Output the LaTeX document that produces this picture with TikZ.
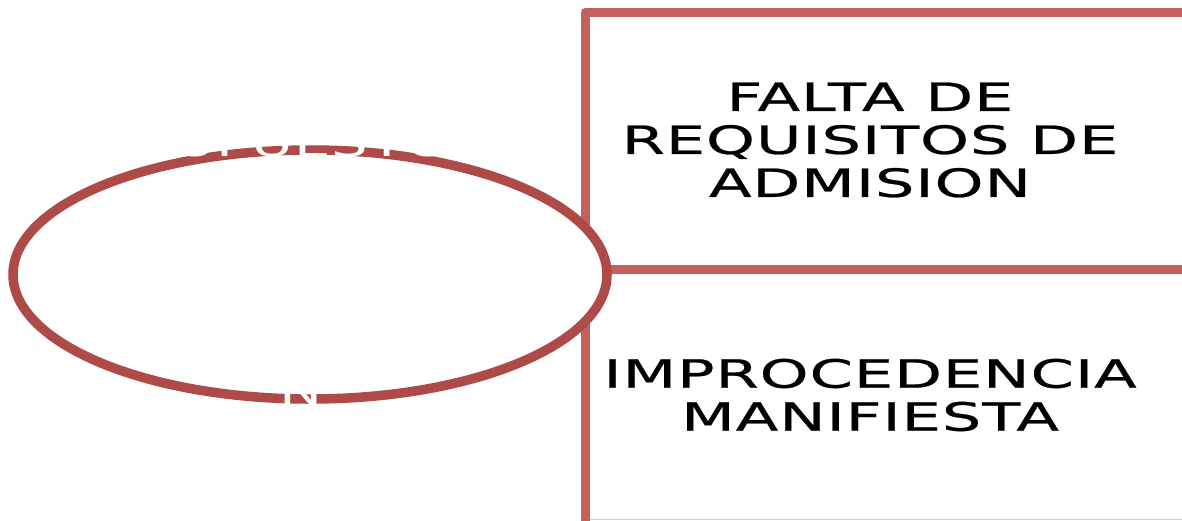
\documentclass[tikz,border=0pt]{standalone}
\usepackage{fontspec}
\newfontfamily\boxfont[FakeStretch=1.6,LetterSpace=2,FakeBold=0.6]{DejaVu Sans}
\newfontfamily\ovalfont[FakeStretch=1.6,LetterSpace=2]{DejaVu Sans}
\usetikzlibrary{shapes.geometric}
\definecolor{edgered}{RGB}{196,96,93}
\definecolor{ovalred}{RGB}{174,74,71}
\definecolor{faint}{RGB}{228,200,200}
\begin{document}
\begin{tikzpicture}[x=1pt,y=-1pt,
  edge/.style={draw=edgered,line width=9pt},
  cell/.style={font=\boxfont\fontsize{39}{43}\selectfont,align=center,text=black,inner sep=0pt},
  oval/.style={ellipse,draw=ovalred,line width=9.5pt,fill=white,minimum width=594pt,minimum height=249pt,inner sep=0pt},
  hidden/.style={font=\ovalfont\fontsize{36}{31}\selectfont,text=white,anchor=base,inner sep=0pt}]
\useasboundingbox (0,0) rectangle (1182,520);
\fill[white] (0,0) rectangle (1182,520);
\coordinate (tl) at (585,12);
\coordinate (tr) at (1190,12);
\coordinate (bl) at (585,530);
\coordinate (ml) at (585,269);
\coordinate (mr) at (1190,269);
\coordinate (fl) at (589,519.5);
\coordinate (fr) at (1190,519.5);
\draw[faint,line width=1pt] (fl) -- (fr);
\draw[edge,line join=round] (tr) -- (tl) -- (bl);
\draw[edge] (ml) -- (mr);
\node[oval] (oval) at (310,274.5) {};
\node[hidden] (t1) at (312,156) {SUPUESTOS};
\node[hidden] (t9) at (301,404) {N};
\node[cell] (upper) at (870,140) {FALTA DE\\REQUISITOS DE\\ADMISION};
\node[cell] (lower) at (870,395) {IMPROCEDENCIA\\MANIFIESTA};
\end{tikzpicture}
\end{document}
